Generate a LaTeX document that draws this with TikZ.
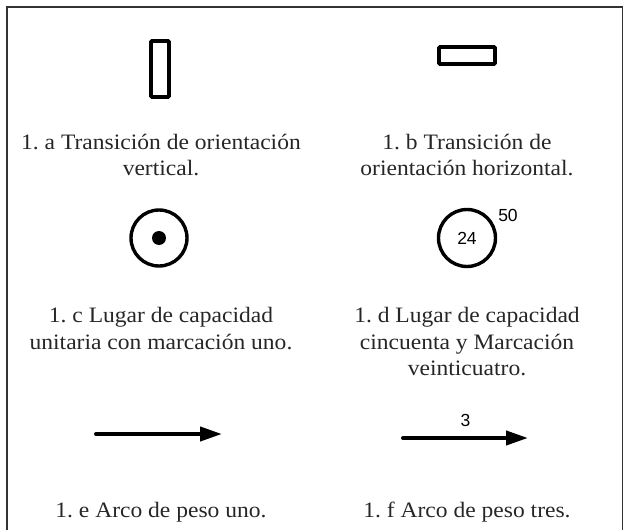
\documentclass[tikz,border=0pt]{standalone}
\usepackage{fontspec}
\setmainfont[FakeStretch=1.07]{Liberation Serif}
\newfontfamily\numfont{Liberation Sans}
\usetikzlibrary{arrows.meta}
\frenchspacing
\tikzset{
  caption/.style={align=center, inner sep=0pt, font=\fontsize{22}{26.5}\selectfont, text=black!85},
  trans/.style={draw, line width=3.6pt, rounded corners=1pt, inner sep=0pt},
  place/.style={draw, circle, line width=3.4pt, inner sep=0pt},
  token/.style={fill, circle, inner sep=0pt, minimum size=14pt},
  num/.style={font=\numfont\fontsize{17.5}{19}\selectfont, inner sep=0pt},
  arcw/.style={line width=4pt, line cap=round, -{Triangle[length=22pt,width=14pt]}},
  frame/.style={line width=1.8pt, draw=black!80}
}
\begin{document}
\begin{tikzpicture}[x=1pt,y=-1pt]
\useasboundingbox (0,0) rectangle (625,530);
% frame
\coordinate (fa) at (7,531);
\coordinate (fb) at (7,7);
\coordinate (fc) at (622.5,7);
\coordinate (fd) at (622.5,531);
\draw[frame] (fa) -- (fb) -- (fc) -- (fd);
% a
\node[trans, minimum width=18pt, minimum height=56pt] (ta) at (160,69) {};
\node[caption] (ca) at (161,155) {1. a Transición de orientación\\vertical.};
% b
\node[trans, minimum width=56pt, minimum height=17pt] (tb) at (467,55.5) {};
\node[caption] (cb) at (467,155) {1. b Transición de\\orientación horizontal.};
% c
\node[place, minimum size=56pt] (pc) at (159,238) {};
\node[token] (kc) at (pc.center) {};
\node[caption] (cc) at (161,328.5) {1. c Lugar de capacidad\\unitaria con marcación uno.};
% d
\node[place, minimum size=57pt] (pd) at (467,238) {};
\node[num] (md) at (pd.center) {24};
\node[num] (kd) at (508,215) {50};
\node[caption] (cd) at (467,342) {1. d Lugar de capacidad\\cincuenta y Marcación\\veinticuatro.};
% e
\coordinate (e1) at (96,434);
\coordinate (e2) at (222,434);
\draw[arcw] (e1) -- (e2);
\node[caption] (ce) at (161,512) {1. e Arco de peso uno.};
% f
\coordinate (f1) at (403,438);
\coordinate (f2) at (528,438);
\draw[arcw] (f1) -- node[num, above=9pt] (wf) {3} (f2);
\node[caption] (cf) at (467,512) {1. f Arco de peso tres.};
\end{tikzpicture}
\end{document}
